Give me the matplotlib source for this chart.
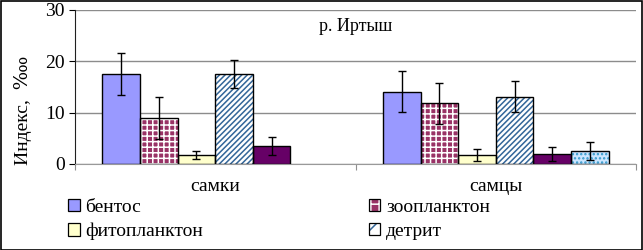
import matplotlib
matplotlib.use("Agg")
import matplotlib.pyplot as plt
import numpy as np
from matplotlib.patches import Rectangle, Patch
from matplotlib.legend_handler import HandlerTuple

plt.rcParams['font.family'] = ['Liberation Serif', 'DejaVu Serif', 'DejaVu Sans']
plt.rcParams['hatch.linewidth'] = 1.1

categories = ['самки', 'самцы']
series_names = ['бентос', 'зоопланктон', 'фитопланктон', 'детрит', 'ряд 5', 'ряд 6']
bentos = [17.6, 14.05]
bentos_err = [4.1, 4.0]
zooplankton = [9.0, 11.8]
zooplankton_err = [4.1, 4.0]
phytoplankton = [1.8, 1.8]
phytoplankton_err = [0.8, 1.2]
detritus = [17.5, 13.1]
detritus_err = [2.7, 3.0]
series5 = [3.6, 1.95]
series5_err = [1.75, 1.3]
series6 = [np.nan, 2.5]
series6_err = [np.nan, 1.8]
yticks = [0, 10, 20, 30]

values = [bentos, zooplankton, phytoplankton, detritus, series5, series6]
errors = [bentos_err, zooplankton_err, phytoplankton_err, detritus_err, series5_err, series6_err]

# style: (facecolor, hatch, hatchcolor)
styles = [
    ('#9999ff', None, None),
    ('#993366', '+++', 'white'),
    ('#ffffcc', None, None),
    ('white', '//////', '#336699'),
    ('#660066', None, None),
    ('#cce6ff', '....', '#3399cc'),
]

fig = plt.figure(figsize=(6.43, 2.5), dpi=100)
ax = fig.add_axes([75/643, 1-164/250, 561/643, 154/250])

x = np.arange(len(categories))
w = 0.134
handles = []
for i, (vals, errs, (fc, hatch, hc)) in enumerate(zip(values, errors, styles)):
    pos = x + (i - 2.5) * w
    if hatch:
        ax.bar(pos, vals, w, color=fc, edgecolor=hc, hatch=hatch, linewidth=0, zorder=2)
        h1 = Patch(facecolor=fc, edgecolor=hc, hatch=hatch[:2], linewidth=0)
    else:
        ax.bar(pos, vals, w, color=fc, linewidth=0, zorder=2)
        h1 = Patch(facecolor=fc, linewidth=0)
    ax.bar(pos, vals, w, fill=False, edgecolor='black', linewidth=1.0, zorder=3)
    ax.errorbar(pos, vals, yerr=errs, fmt='none', ecolor='black', elinewidth=1.0,
                capsize=3, capthick=1.0, zorder=4)
    h2 = Patch(fill=False, edgecolor='black', linewidth=0.9)
    handles.append((h1, h2))

ax.set_xlim(-0.5, 1.5)
ax.set_ylim(0, 30)
ax.set_yticks(yticks)
ax.tick_params(axis='y', labelsize=14, length=4.5, direction='out', pad=3)
ax.set_xticks([-0.5, 0.5, 1.5])
ax.set_xticklabels([])
ax.tick_params(axis='x', length=4.5, direction='out', color='#909090')
for xi, c in zip(x, categories):
    ax.text(xi, -4.4, c, ha='center', va='center', fontsize=14)

ax.grid(axis='y', color='#8c8c8c', linewidth=1.0, zorder=0)
ax.set_axisbelow(True)
for s in ['top', 'right']:
    ax.spines[s].set_visible(False)
ax.spines['left'].set_color('#202020')
ax.spines['bottom'].set_color('#999999')

ax.set_ylabel('Индекс,  ‱', fontsize=14)
ax.yaxis.set_label_coords(-0.077, 0.35)
ax.text(0.5, 0.895, 'р. Иртыш', transform=ax.transAxes, ha='center', va='center', fontsize=13)

order = [0, 2, 1, 3]
leg = fig.legend([handles[i] for i in order], [series_names[i] for i in order],
                 handler_map={tuple: HandlerTuple(ndivide=1, pad=0)},
                 ncol=2, loc='upper left', bbox_to_anchor=(68/643, 1-199/250),
                 frameon=False, fontsize=14, handlelength=0.6, handleheight=0.6,
                 handletextpad=0.3, columnspacing=8.5, labelspacing=0.35, borderaxespad=0,
                 borderpad=0)

fig.patches.append(Rectangle((0.001, 0.002), 0.997, 0.995, transform=fig.transFigure,
                             fill=False, edgecolor='black', linewidth=1.2))

fig.savefig('out.png', dpi=100)
